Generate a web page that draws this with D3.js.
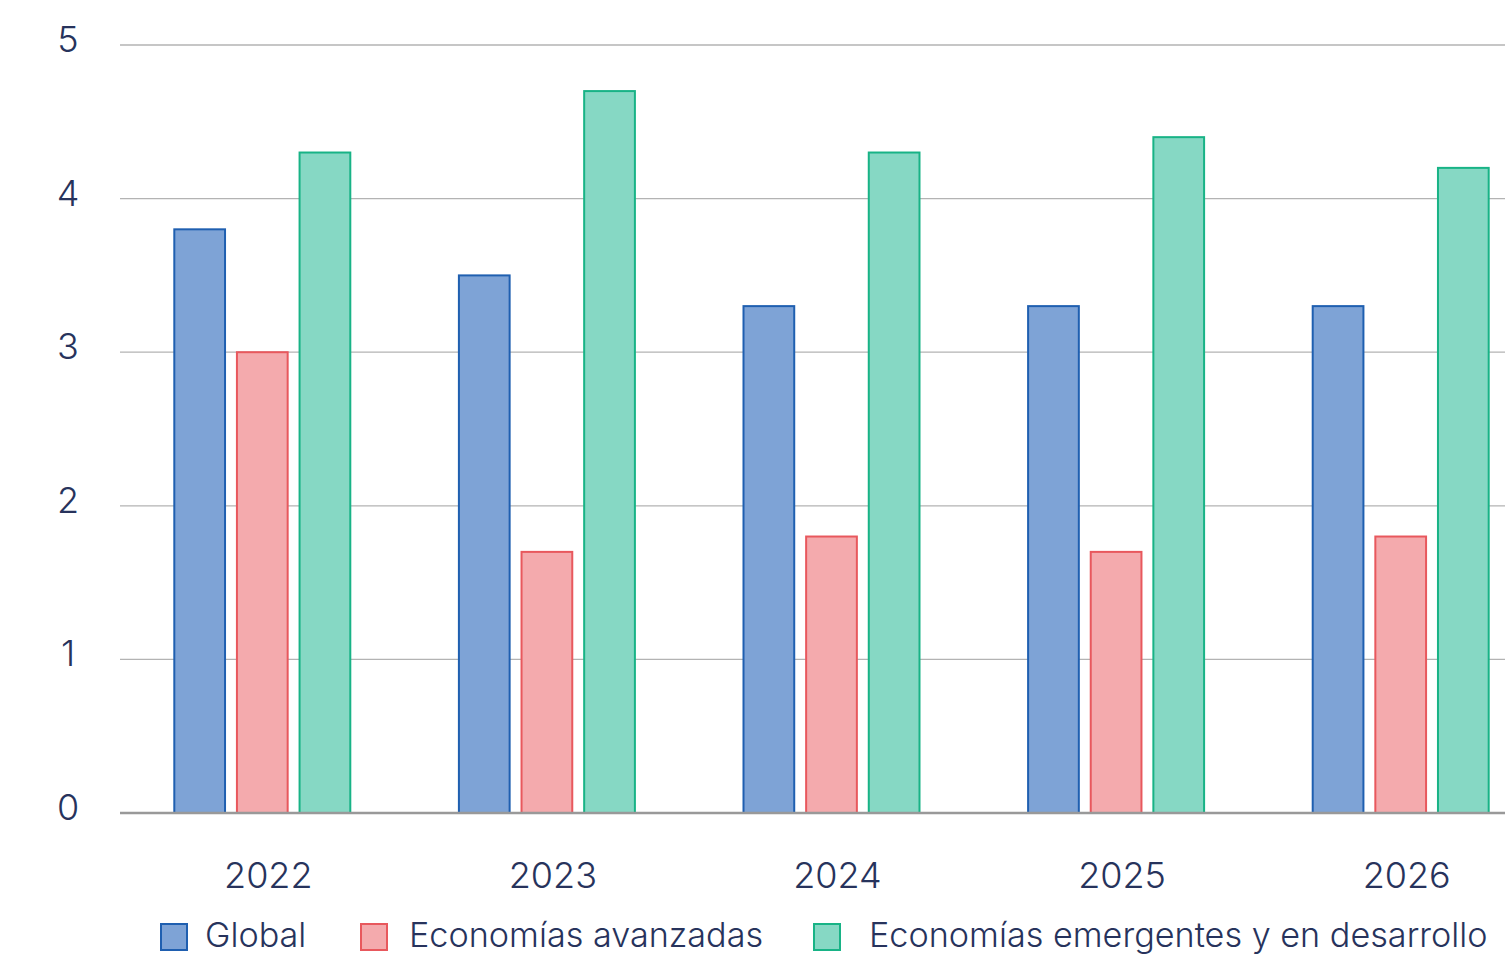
<!DOCTYPE html>
<html><head><meta charset="utf-8">
<script src="https://cdn.jsdelivr.net/npm/d3@7"></script>
<style>
html,body{margin:0;padding:0;background:#fff;overflow:hidden;}
text{font-family:Inter,"Noto Sans",sans-serif;font-weight:300;fill:#27335c;}
</style></head>
<body>
<svg id="chart" width="1505" height="956"></svg>
<script>
const years = ["2022","2023","2024","2025","2026"];
const seriesNames = ["Global","Economías avanzadas","Economías emergentes y en desarrollo"];
const globalVals = [3.8,3.5,3.3,3.3,3.3];
const advancedVals = [3.0,1.7,1.8,1.7,1.8];
const emergingVals = [4.3,4.7,4.3,4.4,4.2];
const yTicks = [0,1,2,3,4,5];
const fills = ["#7ea3d6","#f4aaad","#86d8c4"];
const strokes = ["#1f5fb0","#e8585d","#18b386"];

const seriesVals = [globalVals, advancedVals, emergingVals];
const svg = d3.select("#chart");
const y = d3.scaleLinear().domain([0,5]).range([813,45]);
const x0 = d3.scaleBand().domain(years).range([120,1543]).padding(0);
const groupW = 176;
const x1 = d3.scaleBand().domain(seriesNames).range([0,groupW]).paddingInner(0.19).paddingOuter(0);

// gridlines
svg.append("g").selectAll("line").data(yTicks.filter(d=>d>0)).join("line")
  .attr("x1",120).attr("x2",1505).attr("y1",d=>y(d)).attr("y2",d=>y(d))
  .attr("stroke","#b3b3b3").attr("stroke-width",1.3);

// y labels
svg.append("g").selectAll("text").data(yTicks).join("text")
  .attr("x",68).attr("y",d=>y(d)+7).attr("text-anchor","middle")
  .attr("font-size",36).text(d=>d);

// bars
const groups = svg.append("g").selectAll("g").data(years).join("g")
  .attr("transform",d=>`translate(${x0(d)+x0.bandwidth()/2-groupW/2},0)`);
groups.selectAll("rect").data((d,i)=>seriesNames.map((s,j)=>({s,j,v:seriesVals[j][i]}))).join("rect")
  .attr("x",d=>x1(d.s)).attr("width",x1.bandwidth())
  .attr("y",d=>y(d.v)).attr("height",d=>y(0)-y(d.v))
  .attr("fill",d=>fills[d.j]).attr("stroke",d=>strokes[d.j]).attr("stroke-width",2);

// baseline
svg.append("line").attr("x1",120).attr("x2",1505).attr("y1",y(0)).attr("y2",y(0))
  .attr("stroke","#999").attr("stroke-width",2.5);

// x labels
svg.append("g").selectAll("text").data(years).join("text")
  .attr("x",d=>x0(d)+x0.bandwidth()/2+6).attr("y",888).attr("text-anchor","middle")
  .attr("font-size",36).text(d=>d);

// legend
const legX = [160,360,813];
const legTextDx = [45,49,56];
const lg = svg.append("g").selectAll("g").data(seriesNames).join("g")
  .attr("transform",(d,i)=>`translate(${legX[i]},0)`);
lg.append("rect").attr("x",1).attr("y",924).attr("width",26).attr("height",26)
  .attr("fill",(d,i)=>fills[i]).attr("stroke",(d,i)=>strokes[i]).attr("stroke-width",2);
lg.append("text").attr("x",(d,i)=>legTextDx[i]).attr("y",947).attr("font-size",34.2).text(d=>d);
</script>
</body></html>
